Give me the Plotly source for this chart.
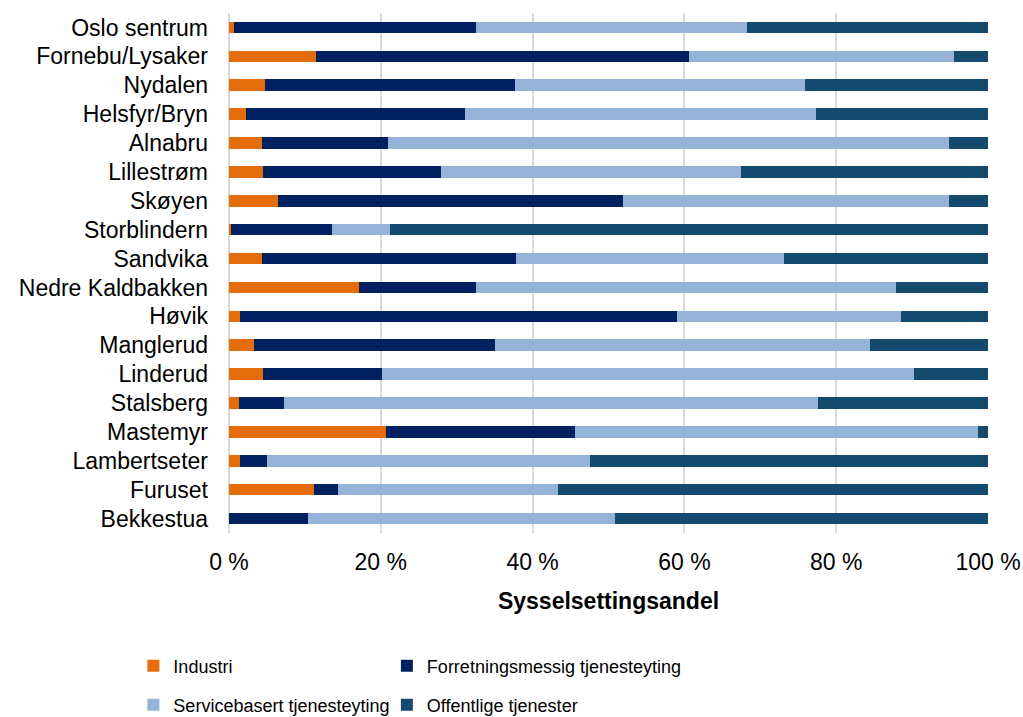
import plotly.graph_objects as go

# Employment share by sector for each location (percent, sums to 100 per row)
locations = [
    "Oslo sentrum", "Fornebu/Lysaker", "Nydalen", "Helsfyr/Bryn", "Alnabru",
    "Lillestrøm", "Skøyen", "Storblindern", "Sandvika", "Nedre Kaldbakken",
    "Høvik", "Manglerud", "Linderud", "Stalsberg", "Mastemyr",
    "Lambertseter", "Furuset", "Bekkestua",
]
industri = [0.6, 11.5, 4.7, 2.2, 4.4, 4.5, 6.4, 0.2, 4.3, 17.1,
            1.4, 3.3, 4.5, 1.3, 20.7, 1.4, 11.2, 0.0]
forretning = [32.0, 49.1, 33.0, 28.9, 16.5, 23.4, 45.5, 13.4, 33.5, 15.4,
              57.6, 31.7, 15.6, 5.9, 24.9, 3.6, 3.2, 10.4]
service = [35.6, 34.9, 38.2, 46.2, 74.0, 39.6, 42.9, 7.6, 35.3, 55.4,
           29.5, 49.4, 70.1, 70.4, 53.1, 42.5, 28.9, 40.4]
offentlig = [31.8, 4.5, 24.1, 22.7, 5.1, 32.5, 5.2, 78.8, 26.9, 12.1,
             11.5, 15.6, 9.8, 22.4, 1.3, 52.5, 56.7, 49.2]

series = [
    ("Industri", industri, "#E46C0A"),
    ("Forretningsmessig tjenesteyting", forretning, "#002060"),
    ("Servicebasert tjenesteyting", service, "#95B3D7"),
    ("Offentlige tjenester", offentlig, "#154A6F"),
]

x_ticks = [0, 20, 40, 60, 80, 100]
x_ticktext = ["0 %", "20 %", "40 %", "60 %", "80 %", "100 %"]

FONT = "Liberation Sans, Arial, sans-serif"

fig = go.Figure()
legend_ids = ["legend", "legend2", "legend3", "legend4"]
for (name, vals, color), lid in zip(series, legend_ids):
    fig.add_trace(go.Bar(
        name=name, y=locations, x=vals, orientation="h",
        marker=dict(color=color, line=dict(width=0)),
        legend=lid,
    ))

# legend entries laid out in a 2x2 grid below the axis title
leg_pos = [(-0.126, -0.256), (0.208, -0.256), (-0.126, -0.331), (0.208, -0.331)]
legend_cfg = {}
for lid, (lx, ly) in zip(legend_ids, leg_pos):
    legend_cfg[lid] = dict(
        x=lx, y=ly, xanchor="left", yanchor="middle",
        font=dict(family=FONT, size=18, color="#000000"),
        bgcolor="rgba(0,0,0,0)", borderwidth=0,
    )

fig.update_layout(
    width=1023, height=717,
    margin=dict(l=229, r=35, t=13, b=184, autoexpand=False),
    barmode="stack", bargap=0.6,
    plot_bgcolor="white", paper_bgcolor="white",
    font=dict(family=FONT, size=23, color="#000000"),
    showlegend=True,
    **legend_cfg,
)
fig.update_xaxes(
    range=[0, 100], tickmode="array", tickvals=x_ticks, ticktext=x_ticktext,
    showgrid=True, gridcolor="#D9D9D9", gridwidth=1.5,
    zeroline=True, zerolinecolor="#D9D9D9", zerolinewidth=1.5,
    showline=False, ticks="", ticklabelstandoff=13,
    tickfont=dict(size=23),
    title=dict(text="<b>Sysselsettingsandel</b>", font=dict(size=23), standoff=18),
)
fig.update_yaxes(
    tickmode="array", tickvals=locations, ticktext=locations,
    categoryorder="array", categoryarray=locations, autorange="reversed",
    showgrid=False, ticks="", ticklabelstandoff=20, tickfont=dict(size=23),
)

fig.write_html("out.html")
